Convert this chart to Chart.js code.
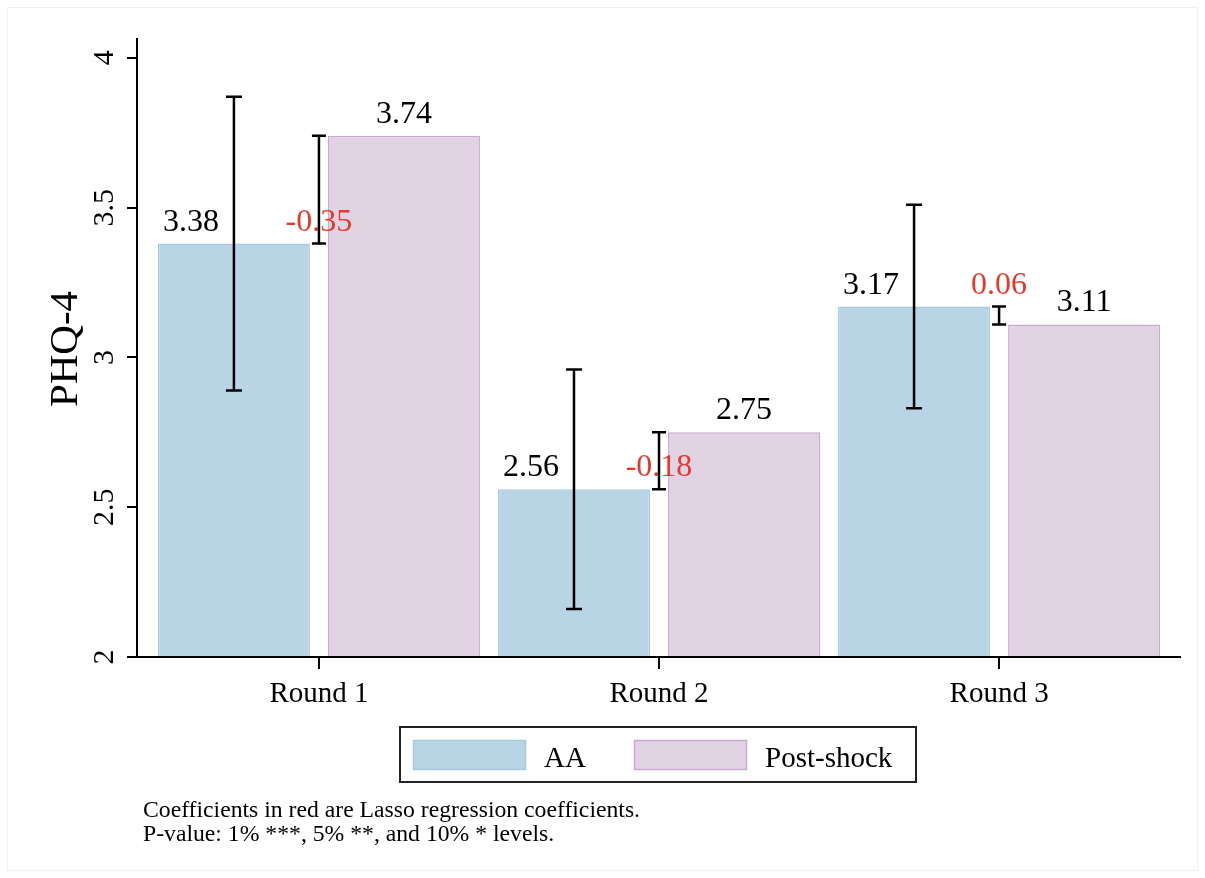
<!DOCTYPE html>
<html>
<head>
<meta charset="utf-8">
<script src="https://cdn.jsdelivr.net/npm/chart.js@4.4.1/dist/chart.umd.min.js"></script>
<style>
  html, body { margin: 0; padding: 0; background: #fff; }
  #wrap { width: 1205px; height: 878px; }
</style>
</head>
<body>
<div id="wrap"><canvas id="phqChart" width="1205" height="878"></canvas></div>
<script>
// values
var rounds = ['Round 1', 'Round 2', 'Round 3'];
var seriesNames = ['AA', 'Post-shock'];
var aaMeans = [3.38, 2.56, 3.17];
var postMeans = [3.74, 2.75, 3.11];
var aaCiLow = [2.89, 2.16, 2.83];
var aaCiHigh = [3.87, 2.96, 3.51];
var coefLabels = ['-0.35', '-0.18', '0.06'];
var coefLow = [3.38, 2.56, 3.11];
var coefHigh = [3.74, 2.75, 3.17];
var yTicks = [2, 2.5, 3, 3.5, 4];
var notes = [
  'Coefficients in red are Lasso regression coefficients.',
  'P-value: 1% ***, 5% **, and 10% * levels.'
];

var SERIF = "'Liberation Serif', 'Times New Roman', serif";
var aaFill = '#b8d4e5', aaLine = '#a6c9df';
var postFill = '#e1d3e4', postLine = '#c9a9ce';
var red = '#e5392b';

function points(vals) {
  return vals.map(function (v, i) { return { x: i, y: v }; });
}

function vbar(ctx, x, yLo, yHi, half) {
  ctx.beginPath();
  ctx.moveTo(x, yLo); ctx.lineTo(x, yHi);
  ctx.moveTo(x - half, yLo); ctx.lineTo(x + half, yLo);
  ctx.moveTo(x - half, yHi); ctx.lineTo(x + half, yHi);
  ctx.stroke();
}

var overlay = {
  id: 'overlay',
  beforeDraw: function (chart) {
    // faint outer frame of the exported figure
    var ctx = chart.ctx;
    ctx.save();
    ctx.strokeStyle = '#f1f1f1';
    ctx.lineWidth = 1;
    ctx.strokeRect(7.5, 7.5, 1190, 863);
    ctx.restore();
  },
  afterDatasetsDraw: function (chart) {
    var ctx = chart.ctx;
    var xs = chart.scales.x, ys = chart.scales.y;
    var aaMeta = chart.getDatasetMeta(0), postMeta = chart.getDatasetMeta(1);
    ctx.save();

    // value labels
    ctx.textAlign = 'center';
    ctx.textBaseline = 'alphabetic';
    ctx.font = '32px ' + SERIF;
    for (var i = 0; i < rounds.length; i++) {
      ctx.fillStyle = '#000';
      ctx.fillText(aaMeans[i].toFixed(2), aaMeta.data[i].x - 43, ys.getPixelForValue(aaMeans[i]) - 13);
      ctx.fillText(postMeans[i].toFixed(2), postMeta.data[i].x, ys.getPixelForValue(postMeans[i]) - 13);
      ctx.fillStyle = red;
      ctx.fillText(coefLabels[i], xs.getPixelForValue(i), ys.getPixelForValue(aaMeans[i]) - 13);
    }

    // error bars
    ctx.strokeStyle = '#000';
    ctx.lineWidth = 2.5;
    for (var j = 0; j < rounds.length; j++) {
      vbar(ctx, aaMeta.data[j].x, ys.getPixelForValue(aaCiLow[j]), ys.getPixelForValue(aaCiHigh[j]), 8);
      vbar(ctx, xs.getPixelForValue(j), ys.getPixelForValue(coefLow[j]), ys.getPixelForValue(coefHigh[j]), 7);
    }

    // y tick labels, rotated
    ctx.fillStyle = '#000';
    ctx.font = '30px ' + SERIF;
    yTicks.forEach(function (t) {
      ctx.save();
      ctx.translate(113, ys.getPixelForValue(t));
      ctx.rotate(-Math.PI / 2);
      ctx.fillText(String(t), 0, 0);
      ctx.restore();
    });

    // y title
    ctx.save();
    ctx.font = '41px ' + SERIF;
    ctx.translate(77, 349);
    ctx.rotate(-Math.PI / 2);
    ctx.fillText('PHQ-4', 0, 0);
    ctx.restore();

    // x labels
    ctx.font = '29px ' + SERIF;
    rounds.forEach(function (r, k) {
      ctx.fillText(r, xs.getPixelForValue(k), 702);
    });

    // legend
    ctx.lineWidth = 2;
    ctx.strokeStyle = '#222';
    ctx.strokeRect(400, 727, 516, 55);
    ctx.lineWidth = 1.5;
    ctx.fillStyle = aaFill; ctx.fillRect(413, 740, 113, 30);
    ctx.strokeStyle = aaLine; ctx.strokeRect(413.5, 740.5, 112, 29);
    ctx.fillStyle = postFill; ctx.fillRect(634, 740, 113, 30);
    ctx.strokeStyle = postLine; ctx.strokeRect(634.5, 740.5, 112, 29);
    ctx.fillStyle = '#000';
    ctx.textAlign = 'left';
    ctx.font = '29px ' + SERIF;
    ctx.fillText(seriesNames[0], 544, 767);
    ctx.fillText(seriesNames[1], 765, 767);

    // notes
    ctx.font = '23.7px ' + SERIF;
    ctx.fillText(notes[0], 143, 817);
    ctx.fillText(notes[1], 143, 841);

    ctx.restore();
  }
};

var ctx = document.getElementById('phqChart').getContext('2d');
var chart = new Chart(ctx, {
  type: 'bar',
  data: {
    datasets: [{
      label: seriesNames[0],
      data: points(aaMeans),
      backgroundColor: aaFill,
      borderColor: aaLine,
      borderWidth: 1.5,
      base: 2
    }, {
      label: seriesNames[1],
      data: points(postMeans),
      backgroundColor: postFill,
      borderColor: postLine,
      borderWidth: 1.5,
      base: 2
    }]
  },
  options: {
    responsive: false,
    animation: false,
    barPercentage: 0.894,
    categoryPercentage: 1,
    layout: { padding: { top: 39, right: 25, left: 0, bottom: 0 } },
    plugins: {
      legend: { display: false },
      tooltip: { enabled: false }
    },
    scales: {
      x: {
        type: 'linear',
        offset: false,
        min: -0.535,
        max: 2.532,
        ticks: { display: false },
        grid: { offset: false, drawOnChartArea: false, drawTicks: true, tickLength: 12, color: '#000', lineWidth: 2 },
        border: { display: true, color: '#000', width: 2 },
        afterBuildTicks: function (s) {
          s.ticks = rounds.map(function (r, i) { return { value: i }; });
        },
        afterFit: function (s) { s.height = 221; }
      },
      y: {
        min: 2,
        max: 4.063,
        ticks: { display: false },
        grid: { drawOnChartArea: false, drawTicks: true, tickLength: 10, color: '#000', lineWidth: 2 },
        border: { display: true, color: '#000', width: 2 },
        afterBuildTicks: function (s) {
          s.ticks = yTicks.map(function (t) { return { value: t }; });
        },
        afterFit: function (s) { s.width = 137; }
      }
    }
  },
  plugins: [overlay]
});
</script>
</body>
</html>
